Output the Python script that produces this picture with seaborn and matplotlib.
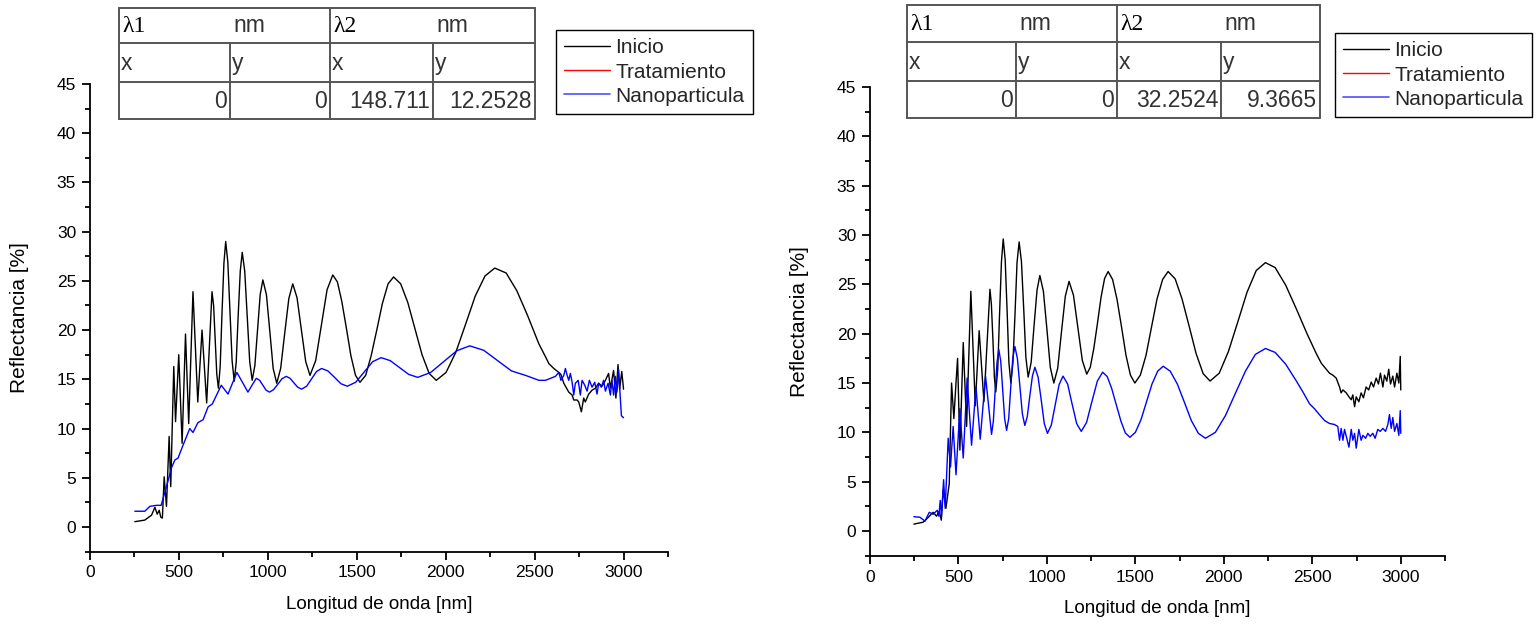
import matplotlib
matplotlib.use("Agg")
import matplotlib.pyplot as plt
import pandas as pd
import seaborn as sns
from matplotlib.lines import Line2D
from matplotlib.ticker import MultipleLocator

# ---------------- data ----------------
series_names = ["Inicio", "Tratamiento", "Nanoparticula"]
series_colors = ["#000000", "#ff0000", "#4f4fff"]

left_inicio_x = [252, 308, 346, 365, 378, 389, 398, 407, 417, 430,
                 445, 454, 471, 481, 499, 518, 537, 555, 579, 606,
                 630, 656, 686, 695, 704, 713, 722, 732, 742, 753,
                 763, 775, 787, 799, 811, 822, 833, 845, 856, 870,
                 884, 898, 912, 927, 942, 957, 972, 992, 1011, 1030,
                 1050, 1072, 1095, 1118, 1140, 1164, 1188, 1213, 1237, 1269,
                 1301, 1333, 1365, 1391, 1416, 1442, 1467, 1493, 1518, 1550,
                 1581, 1613, 1644, 1676, 1707, 1747, 1787, 1827, 1867, 1907,
                 1947, 2002, 2057, 2112, 2166, 2221, 2276, 2340, 2400, 2460,
                 2524, 2561, 2580, 2608, 2636, 2648, 2664, 2692, 2711, 2720,
                 2739, 2748, 2763, 2776, 2785, 2804, 2823, 2842, 2860, 2879,
                 2898, 2916, 2926, 2944, 2957, 2969, 2978, 2990, 3000]
left_inicio_y = [0.54, 0.7, 1.2, 2.0, 1.3, 1.7, 1.0, 0.9, 5.1, 2.1,
                 9.2, 4.1, 16.3, 10.7, 17.5, 8.5, 19.6, 10.5, 23.9, 12.7,
                 20.0, 12.6, 23.9, 22.5, 19.0, 15.5, 14.1, 16.3, 21.6, 26.8,
                 29.0, 26.9, 21.9, 16.9, 14.8, 16.7, 21.4, 26.0, 27.9, 26.0,
                 21.4, 16.8, 14.9, 16.4, 20.0, 23.6, 25.1, 23.6, 19.9, 16.1,
                 14.6, 16.1, 19.7, 23.2, 24.7, 23.3, 20.1, 16.8, 15.4, 16.9,
                 20.5, 24.1, 25.6, 24.9, 22.9, 20.15, 17.4, 15.4, 14.7, 15.4,
                 17.4, 20.05, 22.7, 24.7, 25.4, 24.7, 22.8, 20.15, 17.5, 15.6,
                 14.9, 15.7, 17.75, 20.6, 23.45, 25.5, 26.3, 25.8, 24.0, 21.5,
                 18.6, 17.3, 16.6, 16.1, 15.7, 15.5, 14.6, 13.7, 13.4, 12.9,
                 12.9, 12.7, 11.7, 13.1, 12.7, 13.5, 13.9, 14.1, 14.6, 14.3,
                 14.9, 15.6, 14.1, 15.9, 13.1, 16.5, 14.0, 15.8, 14.0]

left_nano_x = [252, 308, 337, 374, 400, 430, 458, 477, 495, 523,
               561, 579, 607, 636, 664, 688, 738, 757, 776, 801,
               826, 857, 888, 911, 935, 954, 972, 990, 1009, 1032,
               1056, 1079, 1103, 1125, 1146, 1168, 1190, 1218, 1246, 1274,
               1302, 1338, 1375, 1411, 1447, 1494, 1542, 1590, 1637, 1688,
               1740, 1792, 1843, 1916, 1989, 2062, 2135, 2214, 2292, 2370,
               2449, 2524, 2561, 2589, 2617, 2636, 2648, 2664, 2673, 2683,
               2692, 2701, 2711, 2720, 2729, 2745, 2757, 2767, 2782, 2795,
               2808, 2823, 2838, 2851, 2860, 2875, 2888, 2898, 2913, 2926,
               2935, 2944, 2954, 2963, 2972, 2988, 3000]
left_nano_y = [1.6, 1.6, 2.1, 2.2, 2.2, 4.1, 6.0, 6.8, 7.0, 8.3,
               10.0, 9.6, 10.6, 10.9, 12.2, 12.5, 14.4, 13.95, 13.5, 14.6,
               15.7, 14.7, 13.7, 14.4, 15.1, 14.9, 14.4, 13.9, 13.7, 13.95,
               14.5, 15.05, 15.3, 15.1, 14.65, 14.2, 14.0, 14.3, 15.05, 15.8,
               16.1, 15.85, 15.2, 14.55, 14.3, 14.7, 15.75, 16.8, 17.2, 16.9,
               16.2, 15.5, 15.2, 15.7, 16.8, 17.9, 18.4, 17.95, 16.9, 15.85,
               15.4, 14.9, 14.9, 15.1, 15.3, 15.7, 14.9, 15.4, 16.1, 15.4,
               14.9, 15.6, 14.7, 13.4, 14.6, 14.9, 13.4, 14.9, 14.4, 13.8,
               14.9, 14.2, 14.7, 13.5, 14.6, 14.2, 14.9, 13.8, 14.6, 13.4,
               14.9, 13.4, 15.3, 13.7, 16.0, 11.3, 11.1]

right_inicio_x = [248, 301, 330, 357, 376, 391, 403, 414, 429, 448,
                  461, 474, 486, 495, 508, 527, 546, 570, 595, 617,
                  644, 678, 686, 695, 703, 711, 722, 732, 743, 753,
                  764, 775, 785, 796, 808, 820, 831, 843, 856, 869,
                  881, 894, 911, 927, 944, 960, 980, 1000, 1019, 1039,
                  1061, 1082, 1104, 1125, 1150, 1175, 1200, 1225, 1245, 1265,
                  1286, 1306, 1326, 1346, 1371, 1396, 1422, 1447, 1472, 1497,
                  1528, 1560, 1591, 1622, 1654, 1685, 1725, 1764, 1804, 1843,
                  1883, 1922, 1974, 2026, 2079, 2131, 2183, 2235, 2290, 2350,
                  2410, 2470, 2522, 2551, 2579, 2597, 2616, 2635, 2654, 2663,
                  2673, 2692, 2707, 2720, 2729, 2739, 2748, 2763, 2776, 2789,
                  2804, 2819, 2833, 2846, 2861, 2874, 2885, 2899, 2908, 2921,
                  2932, 2942, 2955, 2965, 2978, 2989, 2997, 3000]
right_inicio_y = [0.7, 0.9, 1.4, 1.9, 1.5, 2.0, 1.1, 4.2, 2.3, 4.8,
                  15.0, 11.4, 15.0, 17.5, 8.2, 19.1, 10.6, 24.3, 12.7, 20.3,
                  13.1, 24.5, 23.0, 19.3, 15.6, 14.1, 16.4, 21.85, 27.3, 29.6,
                  27.5, 22.3, 17.1, 15.0, 17.1, 22.15, 27.2, 29.3, 27.3, 22.45,
                  17.6, 15.6, 17.1, 20.75, 24.4, 25.9, 24.3, 20.45, 16.6, 15.0,
                  16.5, 20.15, 23.8, 25.3, 23.9, 20.6, 17.3, 15.9, 16.6, 18.5,
                  21.1, 23.7, 25.6, 26.3, 25.5, 23.5, 20.65, 17.8, 15.8, 15.0,
                  15.8, 17.8, 20.65, 23.5, 25.5, 26.3, 25.55, 23.5, 20.75, 18.0,
                  15.95, 15.2, 16.0, 18.2, 21.2, 24.2, 26.4, 27.2, 26.7, 24.9,
                  22.5, 20.0, 18.0, 17.0, 16.4, 16.0, 15.8, 15.5, 14.6, 14.0,
                  14.3, 14.0, 13.6, 13.3, 13.8, 12.6, 13.6, 13.1, 14.0, 13.5,
                  14.6, 14.3, 15.1, 14.6, 15.5, 14.9, 16.0, 14.6, 15.8, 15.2,
                  16.4, 14.9, 15.7, 14.6, 16.0, 15.0, 17.7, 14.3]

right_nano_x = [248, 282, 311, 335, 357, 380, 389, 397, 404, 416,
                425, 442, 455, 470, 486, 508, 527, 549, 574, 599,
                623, 653, 687, 697, 707, 718, 728, 739, 750, 761,
                772, 784, 795, 807, 819, 833, 847, 861, 875, 889,
                903, 918, 932, 950, 968, 985, 1003, 1025, 1047, 1069,
                1091, 1117, 1142, 1168, 1194, 1224, 1254, 1285, 1315, 1341,
                1366, 1392, 1418, 1443, 1469, 1500, 1532, 1563, 1594, 1626,
                1657, 1697, 1737, 1777, 1816, 1856, 1896, 1952, 2009, 2065,
                2122, 2178, 2235, 2290, 2350, 2410, 2450, 2484, 2512, 2540,
                2569, 2597, 2625, 2644, 2654, 2663, 2673, 2682, 2692, 2707,
                2720, 2729, 2739, 2748, 2763, 2776, 2786, 2801, 2814, 2827,
                2842, 2855, 2870, 2884, 2899, 2914, 2927, 2936, 2946, 2955,
                2965, 2978, 2989, 2997, 3000]
right_nano_y = [1.45, 1.4, 1.0, 1.9, 1.7, 2.1, 1.5, 3.1, 1.5, 5.2,
                2.3, 9.4, 6.5, 10.6, 5.7, 12.4, 7.4, 15.5, 8.7, 14.6,
                9.3, 15.7, 9.8, 11.1, 14.1, 17.1, 18.4, 17.2, 14.3, 11.4,
                10.2, 11.4, 14.45, 17.5, 18.7, 17.5, 14.7, 11.9, 10.7, 11.6,
                13.65, 15.7, 16.6, 15.6, 13.25, 10.9, 9.9, 10.75, 12.8, 14.85,
                15.7, 14.9, 12.9, 10.9, 10.1, 11.0, 13.1, 15.2, 16.1, 15.65,
                14.45, 12.8, 11.15, 9.95, 9.5, 10.0, 11.3, 13.1, 14.9, 16.2,
                16.7, 16.2, 14.9, 13.05, 11.2, 9.9, 9.4, 10.0, 11.7, 13.95,
                16.2, 17.9, 18.5, 18.1, 16.9, 15.2, 14.0, 12.9, 12.4, 11.8,
                11.2, 10.9, 10.8, 10.6, 9.2, 10.4, 9.2, 10.3, 9.6, 8.5,
                10.3, 9.2, 9.9, 8.4, 10.3, 9.2, 9.7, 9.4, 9.9, 9.6,
                9.9, 9.4, 10.3, 10.1, 10.4, 10.1, 10.8, 11.8, 10.4, 11.5,
                10.1, 10.9, 9.7, 12.2, 9.9]

table_header = ["λ1", "nm", "λ2", "nm"]
table_sub = ["x", "y", "x", "y"]
left_table_vals = ["0", "0", "148.711", "12.2528"]
right_table_vals = ["0", "0", "32.2524", "9.3665"]

x_label = "Longitud de onda [nm]"
y_label = "Reflectancia [%]"

# ---------------- style ----------------
sns.set_theme(style="ticks")
plt.rcParams["font.family"] = ["Liberation Sans", "DejaVu Sans"]

W, H = 1540, 625
fig = plt.figure(figsize=(W / 100, H / 100), dpi=100)


def fig_rect(x0, y_top, x1, y_bot):
    return [x0 / W, 1 - y_bot / H, (x1 - x0) / W, (y_bot - y_top) / H]


palette = {"Inicio": series_colors[0], "Nanoparticula": "#0000ff"}


def make_panel(rect, ix, iy, nx, ny):
    ax = fig.add_axes(rect)
    df = pd.concat([
        pd.DataFrame({"nm": ix, "R": iy, "serie": "Inicio"}),
        pd.DataFrame({"nm": nx, "R": ny, "serie": "Nanoparticula"}),
    ], ignore_index=True)
    sns.lineplot(data=df, x="nm", y="R", hue="serie",
                 hue_order=["Inicio", "Nanoparticula"], palette=palette,
                 estimator=None, sort=False, linewidth=1.0, legend=False, ax=ax)
    ax.set_xlim(0, 3250)
    ax.set_ylim(-2.5, 45)
    ax.xaxis.set_major_locator(MultipleLocator(500))
    ax.xaxis.set_minor_locator(MultipleLocator(250))
    ax.yaxis.set_major_locator(MultipleLocator(5))
    ax.yaxis.set_minor_locator(MultipleLocator(2.5))
    sns.despine(ax=ax)
    for s in ("left", "bottom"):
        ax.spines[s].set_linewidth(1.3)
        ax.spines[s].set_color("black")
    ax.tick_params(which="major", direction="out", length=6, width=1.3,
                   labelsize=12.5, colors="black", pad=4)
    ax.tick_params(which="minor", direction="out", length=3.5, width=1.3,
                   colors="black")
    ax.set_xlabel(x_label, fontsize=13.5, labelpad=11, color="black")
    ax.set_ylabel(y_label, fontsize=15, labelpad=20, color="black")
    ax.set_facecolor("white")
    return ax


axL = make_panel(fig_rect(90, 84, 668, 551.6),
                 left_inicio_x, left_inicio_y, left_nano_x, left_nano_y)
axR = make_panel(fig_rect(870, 87, 1445, 555.7),
                 right_inicio_x, right_inicio_y, right_nano_x, right_nano_y)

# ---------------- overlay: tables ----------------
ov = fig.add_axes([0, 0, 1, 1], zorder=5)
ov.set_xlim(0, W)
ov.set_ylim(H, 0)
ov.axis("off")

table_font = ["Liberation Sans", "DejaVu Sans"]


def draw_table(cols, rows, vals):
    lc = "#555555"
    lw = 1.4
    for r in rows:
        ov.plot([cols[0], cols[-1]], [r, r], color=lc, lw=lw)
    for c in (cols[0], cols[2], cols[4]):
        ov.plot([c, c], [rows[0], rows[-1]], color=lc, lw=lw)
    for c in (cols[1], cols[3]):
        ov.plot([c, c], [rows[1], rows[-1]], color=lc, lw=lw)
    ymid = [(rows[i] + rows[i + 1]) / 2 for i in range(3)]
    for j, c in ((0, cols[0]), (2, cols[2])):
        ov.text(c + 3, ymid[0] + 1, table_header[j], family=["Liberation Serif", "DejaVu Serif"],
                fontsize=17, color="black", ha="left", va="center")
    for j, c in ((1, cols[1]), (3, cols[3])):
        ov.text(c + 3, ymid[0], table_header[j], family=table_font,
                fontsize=16.5, color="#333333", ha="left", va="center")
    for j in range(4):
        ov.text(cols[j] + 2, ymid[1] + 1, table_sub[j], family=table_font,
                fontsize=16.5, color="#333333", ha="left", va="center")
        ov.text(cols[j + 1] - 3, ymid[2] + 1, vals[j], family=table_font,
                fontsize=16.5, color="#333333", ha="right", va="center")


draw_table([119, 230, 330, 433, 535], [8, 43, 82, 119], left_table_vals)
draw_table([907, 1016, 1117, 1221, 1320], [5, 42, 81, 118], right_table_vals)

# ---------------- legends ----------------
handles = [Line2D([], [], color=series_colors[0], lw=1.0),
           Line2D([], [], color=series_colors[1], lw=1.0),
           Line2D([], [], color=series_colors[2], lw=1.2)]
for x0, y0 in ((556, 30), (1335, 33)):
    leg = fig.legend(handles, series_names, loc="upper left",
                     bbox_to_anchor=(x0 / W, 1 - y0 / H), bbox_transform=fig.transFigure,
                     frameon=True, fancybox=False, shadow=False, framealpha=1,
                     edgecolor="black", fontsize=15, handlelength=2.2,
                     handletextpad=0.25, borderpad=0.4, labelspacing=0.25,
                     borderaxespad=0)
    leg.get_frame().set_linewidth(1.0)
    leg.set_zorder(6)

fig.savefig("out.png", dpi=100, facecolor="white")
